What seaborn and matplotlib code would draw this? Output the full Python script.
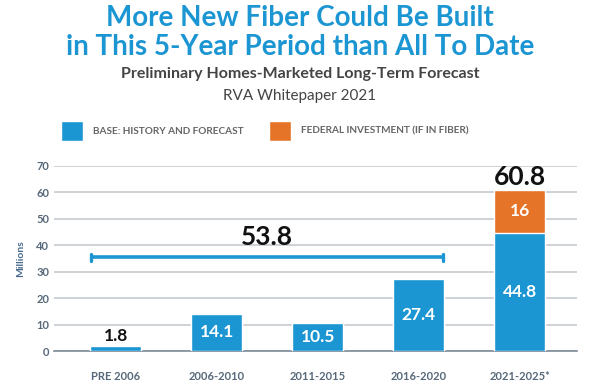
import pandas as pd
import matplotlib
matplotlib.use('Agg')
import matplotlib.pyplot as plt
import seaborn as sns
from matplotlib.patches import Patch

# data
periods = ['PRE 2006', '2006-2010', '2011-2015', '2016-2020', '2021-2025*']
base = [1.8, 14.1, 10.5, 27.4, 44.8]
federal = [0, 0, 0, 0, 16]
total_to_date = 53.8
bracket_y = 35.5

blue = '#1b96d3'
orange = '#e57428'
grid_col = '#c5cbd1'
tick_col = '#56687a'

df = pd.DataFrame({'period': periods, 'base': base, 'federal': federal})
df['total'] = df['base'] + df['federal']

sns.set_style('white')
plt.rcParams['font.family'] = ['Lato', 'DejaVu Sans']

fig = plt.figure(figsize=(6, 3.85), dpi=100)
ax = fig.add_axes([0.09, 0.088, 0.872, 0.481])

sns.barplot(data=df, x='period', y='total', color=orange, width=0.51,
            saturation=1, ax=ax, zorder=3)
sns.barplot(data=df, x='period', y='base', color=blue, width=0.51,
            saturation=1, ax=ax, zorder=3)

ax.set_ylim(0, 70)
ax.set_xlim(-0.61, 4.57)
ax.set_yticks(range(0, 71, 10))
ax.yaxis.grid(True, color=grid_col, linewidth=1.2, zorder=0)
ax.set_axisbelow(True)
for s in ['top', 'right', 'left']:
    ax.spines[s].set_visible(False)
ax.spines['bottom'].set_color('#7d8c99')
ax.spines['bottom'].set_linewidth(1.2)
ax.tick_params(axis='both', length=0, colors=tick_col, labelsize=8)
ax.tick_params(axis='x', pad=14)
for lab in ax.get_xticklabels() + ax.get_yticklabels():
    lab.set_fontweight('bold')
ax.set_xlabel('')
ax.set_ylabel('Millions', color='#45698c', fontsize=7.5, fontweight='bold', labelpad=8)

# value labels
for i, (b, f) in enumerate(zip(base, federal)):
    if b < 5:
        ax.text(i, b + 0.8, f'{b}', ha='center', va='bottom', fontsize=12.5,
                fontweight='bold', color='#111111')
    else:
        ax.text(i, b / 2, f'{b}', ha='center', va='center', fontsize=12.5,
                fontweight='bold', color='white', zorder=4)
    if f > 0:
        ax.text(i, b + f / 2, f'{f}', ha='center', va='center', fontsize=12.5,
                fontweight='bold', color='white', zorder=4)
        ax.text(i, b + f + 0.5, f'{b + f:.1f}', ha='center', va='bottom',
                fontsize=19, fontweight='bold', color='#111111', clip_on=False)

# bracket for total to date
x0, x1 = -0.245, 3.245
ax.plot([x0, x1], [bracket_y, bracket_y], color=blue, lw=2.6, zorder=4,
        solid_capstyle='butt')
ax.plot([x0, x0], [bracket_y - 1.4, bracket_y + 1.4], color=blue, lw=2.4, zorder=4)
ax.plot([x1, x1], [bracket_y - 1.4, bracket_y + 1.4], color=blue, lw=2.4, zorder=4)
ax.text(1.5, bracket_y + 3, f'{total_to_date}', ha='center', va='bottom',
        fontsize=19, fontweight='bold', color='#111111')

# titles
fig.text(0.5, 0.953, 'More New Fiber Could Be Built', ha='center', va='center',
         fontsize=20, fontweight='bold', color='#1b96d3')
fig.text(0.5, 0.878, 'in This 5-Year Period than All To Date', ha='center', va='center',
         fontsize=20, fontweight='bold', color='#1b96d3')
fig.text(0.5, 0.807, 'Preliminary Homes-Marketed Long-Term Forecast', ha='center',
         va='center', fontsize=11.5, fontweight='bold', color='#444444')
fig.text(0.5, 0.750, 'RVA Whitepaper 2021', ha='center', va='center',
         fontsize=11, color='#444444')

# legend
handles = [Patch(facecolor=blue, label='BASE: HISTORY AND FORECAST'),
           Patch(facecolor=orange, label='FEDERAL INVESTMENT (IF IN FIBER)')]
leg = fig.legend(handles=handles, loc='center left', bbox_to_anchor=(0.087, 0.66),
                 ncol=2, frameon=False, fontsize=7.2, handlelength=2.2,
                 handleheight=2.6, columnspacing=2.5, handletextpad=1.0)
for t in leg.get_texts():
    t.set_color('#666666')
    t.set_fontweight('bold')

fig.savefig('out.png', dpi=100)
